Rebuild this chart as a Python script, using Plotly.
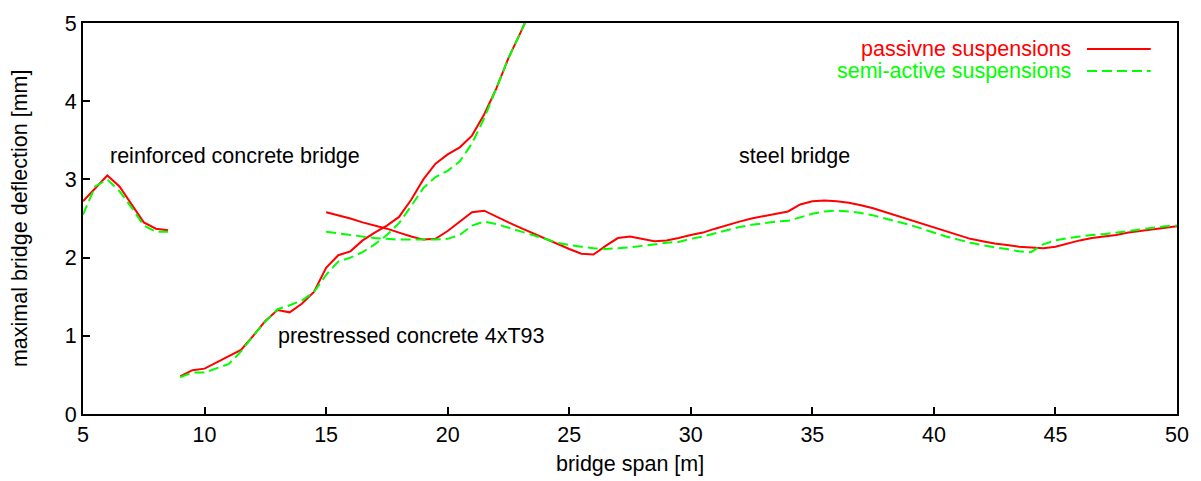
import plotly.graph_objects as go

# Maximal bridge deflection vs. span, passive and semi-active suspensions
reinforced_span = [5, 5.5, 6, 6.5, 7, 7.5, 8, 8.5]
reinforced_passive = [2.72, 2.88, 3.05, 2.91, 2.68, 2.45, 2.37, 2.35]
reinforced_semi = [2.55, 2.91, 3.00, 2.85, 2.64, 2.41, 2.33, 2.33]

prestressed_span = [9, 9.5, 10, 10.5, 11, 11.5, 12, 12.5, 13, 13.5, 14, 14.5, 15,
                    15.5, 16, 16.5, 17, 17.5, 18, 18.5, 19, 19.5, 20, 20.5, 21,
                    21.5, 22, 22.5, 23, 23.5]
prestressed_passive = [0.48, 0.56, 0.58, 0.66, 0.74, 0.82, 1.00, 1.19, 1.33, 1.30,
                       1.41, 1.56, 1.87, 2.03, 2.08, 2.22, 2.32, 2.41, 2.52, 2.74,
                       3.00, 3.20, 3.32, 3.41, 3.56, 3.83, 4.16, 4.55, 4.88, 5.22]
prestressed_semi = [0.47, 0.53, 0.53, 0.58, 0.64, 0.80, 1.00, 1.18, 1.34, 1.39,
                    1.45, 1.56, 1.78, 1.95, 2.00, 2.07, 2.17, 2.29, 2.44, 2.66,
                    2.89, 3.03, 3.11, 3.23, 3.46, 3.78, 4.16, 4.55, 4.88, 5.22]

steel_span = [15, 15.5, 16, 16.5, 17, 17.5, 18, 18.5, 19, 19.5, 20, 20.5, 21, 21.5,
              22, 22.5, 23, 23.5, 24, 24.5, 25, 25.5, 26, 26.5, 27, 27.5, 28, 28.5,
              29, 29.5, 30, 30.5, 31, 31.5, 32, 32.5, 33, 33.5, 34, 34.5, 35, 35.5,
              36, 36.5, 37, 37.5, 38, 38.5, 39, 39.5, 40, 40.5, 41, 41.5, 42, 42.5,
              43, 43.5, 44, 44.5, 45, 45.5, 46, 46.5, 47, 47.5, 48, 48.5, 49, 49.5, 50]
steel_passive = [2.58, 2.54, 2.50, 2.45, 2.41, 2.37, 2.32, 2.27, 2.23, 2.24, 2.34,
                 2.46, 2.58, 2.60, 2.52, 2.45, 2.38, 2.31, 2.24, 2.18, 2.11, 2.05,
                 2.04, 2.15, 2.25, 2.27, 2.24, 2.21, 2.22, 2.25, 2.29, 2.32, 2.37,
                 2.42, 2.46, 2.50, 2.53, 2.56, 2.59, 2.68, 2.72, 2.73, 2.72, 2.70,
                 2.67, 2.63, 2.58, 2.53, 2.48, 2.43, 2.38, 2.33, 2.28, 2.24, 2.21,
                 2.18, 2.16, 2.14, 2.13, 2.12, 2.14, 2.18, 2.22, 2.25, 2.27, 2.29,
                 2.32, 2.34, 2.36, 2.38, 2.40]
steel_semi = [2.33, 2.31, 2.29, 2.27, 2.25, 2.24, 2.23, 2.23, 2.23, 2.23, 2.24,
              2.29, 2.41, 2.46, 2.43, 2.38, 2.33, 2.28, 2.24, 2.19, 2.16, 2.14,
              2.12, 2.11, 2.12, 2.13, 2.15, 2.17, 2.19, 2.20, 2.24, 2.27, 2.31,
              2.35, 2.39, 2.42, 2.44, 2.46, 2.47, 2.52, 2.56, 2.59, 2.60, 2.59,
              2.57, 2.54, 2.50, 2.46, 2.42, 2.37, 2.32, 2.27, 2.23, 2.19, 2.16,
              2.13, 2.11, 2.08, 2.07, 2.17, 2.22, 2.25, 2.27, 2.29, 2.30, 2.32,
              2.34, 2.36, 2.38, 2.40, 2.41]

bridge_labels = ["reinforced concrete bridge", "prestressed concrete 4xT93", "steel bridge"]
label_x = [6.03, 12.93, 31.92]
label_y = [3.3, 1.0, 3.3]

series_names = ["passivne suspensions", "semi-active suspensions"]
x_ticks = [5, 10, 15, 20, 25, 30, 35, 40, 45, 50]
y_ticks = [0, 1, 2, 3, 4, 5]

RED = "#ff0000"
GREEN = "#00ff00"
FONT = "Liberation Sans, Arial, sans-serif"
FS = 21.5

passive_line = dict(color=RED, width=2)
semi_line = dict(color=GREEN, width=2, dash="10px,5px")

fig = go.Figure()
# passive drawn first, semi-active dashed on top
for span, passive, semi in [
    (reinforced_span, reinforced_passive, reinforced_semi),
    (prestressed_span, prestressed_passive, prestressed_semi),
    (steel_span, steel_passive, steel_semi),
]:
    fig.add_trace(go.Scatter(x=span, y=passive, mode="lines", line=passive_line,
                             showlegend=False, hoverinfo="skip"))
for span, semi in [
    (reinforced_span, reinforced_semi),
    (prestressed_span, prestressed_semi),
    (steel_span, steel_semi),
]:
    fig.add_trace(go.Scatter(x=span, y=semi, mode="lines", line=semi_line,
                             showlegend=False, hoverinfo="skip"))

for txt, lx, ly in zip(bridge_labels, label_x, label_y):
    fig.add_annotation(x=lx, y=ly, text=txt, showarrow=False, xanchor="left",
                       yanchor="middle", font=dict(family=FONT, size=FS, color="black"))

# key, text on the left and line sample on the right
key_y = [0.9336, 0.877]
key_colors = [RED, GREEN]
key_dash = ["solid", "10px,5px"]
for name, ky, kc, kd in zip(series_names, key_y, key_colors, key_dash):
    fig.add_annotation(x=0.905, y=ky, xref="paper", yref="paper", text=name,
                       showarrow=False, xanchor="right", yanchor="middle",
                       font=dict(family=FONT, size=FS, color=kc))
    fig.add_shape(type="line", xref="paper", yref="paper", x0=0.9177, x1=0.976,
                  y0=ky, y1=ky, line=dict(color=kc, width=2, dash=kd))

# axis titles
fig.add_annotation(x=0.5, y=-0.129, xref="paper", yref="paper", text="bridge span [m]",
                   showarrow=False, xanchor="center", yanchor="middle",
                   font=dict(family=FONT, size=FS, color="black"))
fig.add_annotation(x=-0.058, y=0.5, xref="paper", yref="paper",
                   text="maximal bridge deflection [mm]", textangle=-90,
                   showarrow=False, xanchor="center", yanchor="middle",
                   font=dict(family=FONT, size=FS, color="black"))

axis_common = dict(showline=True, linecolor="black", linewidth=2, mirror=True,
                   ticks="inside", ticklen=7, tickwidth=2, tickcolor="black",
                   showgrid=False, zeroline=False,
                   tickfont=dict(family=FONT, size=FS, color="black"))

fig.update_xaxes(range=[5, 50], tickvals=x_ticks, **axis_common)
fig.update_yaxes(range=[0, 5], tickvals=y_ticks, **axis_common)

fig.update_layout(width=1201, height=481, margin=dict(l=83, r=24, t=18, b=67),
                  plot_bgcolor="white", paper_bgcolor="white", showlegend=False)

fig.write_html("out.html")
